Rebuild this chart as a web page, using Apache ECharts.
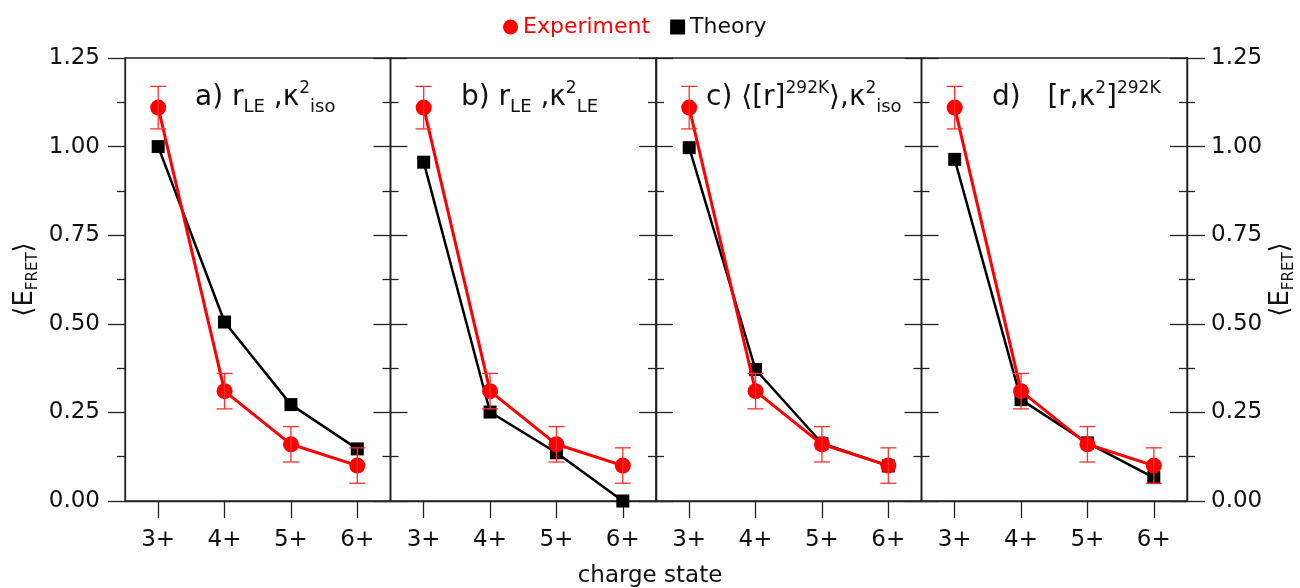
<!DOCTYPE html>
<html>
<head>
<meta charset="utf-8">
<script src="https://cdn.jsdelivr.net/npm/echarts@6/dist/echarts.min.js"></script>
<style>
html,body{margin:0;padding:0;background:#fff;}
#chart{width:1300px;height:588px;}
</style>
</head>
<body>
<div id="chart"></div>
<script>
// ---- data ----
const chargeStates = ['3+', '4+', '5+', '6+'];
const experiment = [1.11, 0.31, 0.16, 0.10];
const experimentErr = [0.06, 0.05, 0.05, 0.05];
const theoryA = [1.00, 0.505, 0.272, 0.147];
const theoryB = [0.956, 0.251, 0.136, 0.0];
const theoryC = [0.997, 0.371, 0.163, 0.099];
const theoryD = [0.964, 0.286, 0.164, 0.066];
const panelTitles = [
  '{m|a) r}{sub|LE}{m| ,κ}{sup|2}{sub|iso}',
  '{m|b) r}{sub|LE}{m| ,κ}{sup|2}{sub|LE}',
  '{m|c) ⟨[r]}{sup|292K}{m|⟩,κ}{sup|2}{sub|iso}',
  '{m|d)   [r,κ}{sup|2}{m|]}{sup|292K}'
];
const theories = [theoryA, theoryB, theoryC, theoryD];

// ---- layout ----
const FONT = 'DejaVu Sans';
const L0 = 125, PW = 265.5, TOP = 58, PH = 443;
const TXT = '#111';
const AX = '#222';

const grids = [], xAxes = [], yAxes = [], series = [], titles = [];
const yBase = {
  type: 'value', min: 0, max: 1.25, interval: 0.25,
  splitLine: {show: false},
  axisLine: {show: true, lineStyle: {color: AX, width: 1.3}},
  minorTick: {show: true, splitNumber: 2, length: 8, lineStyle: {color: AX, width: 1.3}},
  minorSplitLine: {show: false}
};
const nameRich = {
  m: {fontSize: 26, fontFamily: FONT, color: TXT, verticalAlign: 'middle', lineHeight: 32},
  s: {fontSize: 15, fontFamily: FONT, color: TXT, verticalAlign: 'bottom', lineHeight: 19}
};
const nameText = '{m|⟨E}{s|FRET}{m|⟩}';

for (let i = 0; i < 4; i++) {
  grids.push({left: L0 + i * PW, top: TOP, width: PW, height: PH, show: true,
    borderColor: AX, borderWidth: 1.3, containLabel: false});
  xAxes.push({
    type: 'category', gridIndex: i, data: chargeStates, boundaryGap: true,
    axisLine: {show: true, lineStyle: {color: AX, width: 1.3}},
    axisTick: {show: true, alignWithLabel: true, length: 17, lineStyle: {color: AX, width: 1.3}},
    axisLabel: {fontSize: 23, fontFamily: FONT, color: TXT, margin: 28},
    splitLine: {show: false}
  });
  if (i === 0) {
    yAxes.push(Object.assign({}, yBase, {
      gridIndex: i, position: 'left',
      axisTick: {show: true, inside: false, length: 17, lineStyle: {color: AX, width: 1.3}},
      axisLabel: {show: true, fontSize: 23, fontFamily: FONT, color: TXT, margin: 25,
        formatter: v => v.toFixed(2)},
      name: nameText, nameLocation: 'middle', nameRotate: 90, nameGap: 84,
      nameTextStyle: {rich: nameRich}
    }));
  } else {
    yAxes.push(Object.assign({}, yBase, {
      gridIndex: i, position: 'left',
      axisTick: {show: true, inside: true, length: 17, lineStyle: {color: AX, width: 1.3}},
      axisLabel: {show: false}
    }));
  }
  yAxes.push(Object.assign({}, yBase, {
    gridIndex: i, position: 'right',
    axisTick: {show: true, inside: true, length: 17, lineStyle: {color: AX, width: 1.3}},
    axisLabel: {show: false}
  }));
}
yAxes.push(Object.assign({}, yBase, {
  gridIndex: 3, position: 'right', offset: 0,
  axisTick: {show: true, inside: false, length: 18, lineStyle: {color: AX, width: 1.3}},
  axisLabel: {show: true, fontSize: 23, fontFamily: FONT, color: TXT, margin: 24,
    formatter: v => v.toFixed(2)},
  name: nameText, nameLocation: 'middle', nameRotate: 90, nameGap: 78,
  nameTextStyle: {rich: nameRich}
}));

const titleLefts = [195, 461, 706, 992];
for (let i = 0; i < 4; i++) {
  titles.push({
    text: panelTitles[i], left: titleLefts[i], top: 80, padding: 0,
    textStyle: {
      fontWeight: 'normal',
      rich: {
        m: {fontSize: 28, fontFamily: FONT, fontWeight: 'normal', color: TXT, verticalAlign: 'middle', lineHeight: 36},
        sub: {fontSize: 18, fontFamily: FONT, fontWeight: 'normal', color: TXT, verticalAlign: 'bottom', lineHeight: 20},
        sup: {fontSize: 17, fontFamily: FONT, fontWeight: 'normal', color: TXT, verticalAlign: 'top', lineHeight: 16}
      }
    }
  });
}

for (let i = 0; i < 4; i++) {
  series.push({
    name: 'Theory', type: 'line', xAxisIndex: i, yAxisIndex: 2 * i,
    data: theories[i], symbol: 'rect', symbolSize: 13, z: 3,
    itemStyle: {color: '#000'}, lineStyle: {color: '#000', width: 2.5},
    animation: false
  });
  series.push({
    name: 'Experiment', type: 'line', xAxisIndex: i, yAxisIndex: 2 * i,
    data: experiment, symbol: 'circle', symbolSize: 16, z: 4,
    itemStyle: {color: '#ff0000'}, lineStyle: {color: '#ff0000', width: 3},
    animation: false
  });
  series.push({
    name: 'Experiment', type: 'custom', xAxisIndex: i, yAxisIndex: 2 * i, z: 5,
    data: chargeStates.map((c, k) => [k, experiment[k] - experimentErr[k], experiment[k] + experimentErr[k]]),
    encode: {x: 0, y: [1, 2]},
    renderItem: function (params, api) {
      const lo = api.coord([api.value(0), api.value(1)]);
      const hi = api.coord([api.value(0), api.value(2)]);
      const hw = 8;
      const st = {stroke: '#ff3030', lineWidth: 1.3};
      return {type: 'group', children: [
        {type: 'line', shape: {x1: lo[0], y1: lo[1], x2: hi[0], y2: hi[1]}, style: st},
        {type: 'line', shape: {x1: lo[0] - hw, y1: lo[1], x2: lo[0] + hw, y2: lo[1]}, style: st},
        {type: 'line', shape: {x1: hi[0] - hw, y1: hi[1], x2: hi[0] + hw, y2: hi[1]}, style: st}
      ]};
    },
    animation: false
  });
}

const chart = echarts.init(document.getElementById('chart'), null, {renderer: 'canvas'});
chart.setOption({
  animation: false,
  backgroundColor: '#fff',
  title: titles,
  legend: {
    top: 11, left: 498, itemGap: 20, itemWidth: 15, itemHeight: 15,
    textStyle: {fontSize: 22, fontFamily: FONT},
    data: [
      {name: 'Experiment', icon: 'circle', itemStyle: {color: '#ff0000'}, textStyle: {color: '#ff0000'}},
      {name: 'Theory', icon: 'rect', itemStyle: {color: '#000'}, textStyle: {color: TXT}}
    ],
    selectedMode: false
  },
  grid: grids,
  xAxis: xAxes,
  yAxis: yAxes,
  series: series,
  graphic: [{
    type: 'text', left: 'center', top: 565,
    style: {text: 'charge state', fontSize: 23, fontFamily: FONT, fill: TXT}
  }]
});
</script>
</body>
</html>
